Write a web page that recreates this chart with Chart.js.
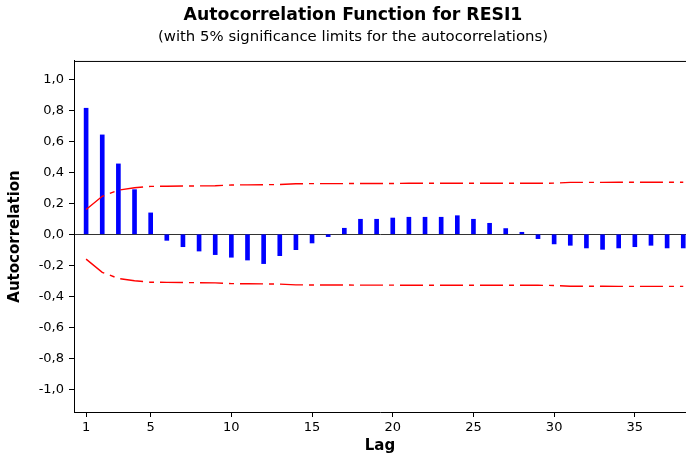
<!DOCTYPE html>
<html>
<head>
<meta charset="utf-8">
<script src="https://cdn.jsdelivr.net/npm/chart.js@4.4.1/dist/chart.umd.min.js"></script>
<style>
  html, body { margin: 0; padding: 0; background: #fff; }
  #wrap { width: 686px; height: 457px; }
</style>
</head>
<body>
<div id="wrap"><canvas id="acf"></canvas></div>
<script>
// lags and autocorrelations
const lags = [1, 2, 3, 4, 5, 6, 7, 8, 9, 10, 11, 12, 13, 14, 15, 16, 17, 18, 19,
              20, 21, 22, 23, 24, 25, 26, 27, 28, 29, 30, 31, 32, 33, 34, 35, 36, 37, 38];
const acf = [0.813, 0.641, 0.454, 0.288, 0.138, -0.039, -0.080, -0.108, -0.131, -0.148,
             -0.166, -0.189, -0.138, -0.099, -0.056, -0.015, 0.039, 0.097, 0.097, 0.105,
             0.110, 0.110, 0.110, 0.120, 0.097, 0.071, 0.037, 0.013, -0.028, -0.062,
             -0.071, -0.088, -0.097, -0.088, -0.080, -0.071, -0.088, -0.088];
// 5% significance limit (upper; lower is its mirror)
const limit = [0.160, 0.245, 0.285, 0.300, 0.309, 0.310, 0.311, 0.312, 0.313, 0.318,
               0.319, 0.320, 0.321, 0.326, 0.327, 0.327, 0.327, 0.328, 0.328, 0.328,
               0.329, 0.329, 0.329, 0.329, 0.329, 0.329, 0.329, 0.329, 0.329, 0.330,
               0.335, 0.335, 0.335, 0.336, 0.336, 0.336, 0.336, 0.336];
const xTicks = [1, 5, 10, 15, 20, 25, 30, 35];
const yTicks = [-1.0, -0.8, -0.6, -0.4, -0.2, 0.0, 0.2, 0.4, 0.6, 0.8, 1.0];

const FONT = "'DejaVu Sans', Verdana, sans-serif";

const topBorder = {
    id: 'topBorder',
    afterDraw(chart) {
        const a = chart.chartArea, ctx = chart.ctx;
        ctx.save();
        ctx.strokeStyle = '#000'; ctx.lineWidth = 1;
        ctx.beginPath(); ctx.moveTo(a.left, a.top + 0.5); ctx.lineTo(a.right, a.top + 0.5); ctx.stroke();
        ctx.restore();
    }
};

const pts = (ys) => lags.map((x, i) => ({ x, y: ys[i] }));
const dash = [23, 6, 5, 6];

new Chart(document.getElementById('acf'), {
    type: 'bar',
    data: {
        datasets: [
            { type: 'bar', data: pts(acf), backgroundColor: '#0000ff', barThickness: 4, grouped: false, order: 2 },
            { type: 'line', data: pts(limit), borderColor: '#ff0000', borderWidth: 1.4, borderDash: dash,
              pointRadius: 0, fill: false, tension: 0, order: 1 },
            { type: 'line', data: pts(limit.map(v => -v)), borderColor: '#ff0000', borderWidth: 1.4, borderDash: dash,
              pointRadius: 0, fill: false, tension: 0, order: 1 }
        ]
    },
    options: {
        responsive: true, maintainAspectRatio: false, animation: false,
        // left padding shifts the titles' centre to match the original
        layout: { padding: { left: 20, right: 0, top: 0, bottom: 0 } },
        plugins: {
            legend: { display: false },
            tooltip: { enabled: false },
            title: { display: true, text: 'Autocorrelation Function for RESI1', color: '#000',
                     font: { family: FONT, size: 17.3, weight: 'bold' }, padding: { top: 5, bottom: 2.3 } },
            subtitle: { display: true, text: '(with 5% significance limits for the autocorrelations)', color: '#000',
                        font: { family: FONT, size: 14.9 }, padding: { top: 0, bottom: 15 } }
        },
        scales: {
            x: {
                type: 'linear', min: 0.25, max: 38.17, offset: false,
                afterBuildTicks: s => { s.ticks = xTicks.map(v => ({ value: v })); },
                afterFit: s => { s.height = 45; },
                border: { display: true, color: '#000', width: 1 },
                grid: { display: true, offset: false, drawOnChartArea: false, drawTicks: true, tickLength: 5, tickColor: '#000' },
                ticks: { color: '#000', font: { family: FONT, size: 13 }, padding: 3, maxRotation: 0, autoSkip: false },
                title: { display: true, text: 'Lag', color: '#000', font: { family: FONT, size: 15, weight: 'bold' },
                         padding: { top: 0, bottom: 2 } }
            },
            y: {
                min: -1.146, max: 1.118,
                afterBuildTicks: s => { s.ticks = yTicks.map(v => ({ value: v })); },
                afterFit: s => { s.width = 54; },
                border: { display: true, color: '#000', width: 1 },
                grid: { drawTicks: true, tickLength: 5, tickColor: '#000',
                        color: c => (c.tick && Math.abs(c.tick.value) < 1e-9) ? '#333' : 'rgba(0,0,0,0)' },
                ticks: { color: '#000', font: { family: FONT, size: 13 }, padding: 5,
                         callback: v => v.toFixed(1).replace('.', ',') },
                title: { display: true, text: 'Autocorrelation', color: '#000', font: { family: FONT, size: 15, weight: 'bold' },
                         padding: { top: -14, bottom: 0 } }
            }
        }
    },
    plugins: [topBorder]
});
</script>
</body>
</html>
